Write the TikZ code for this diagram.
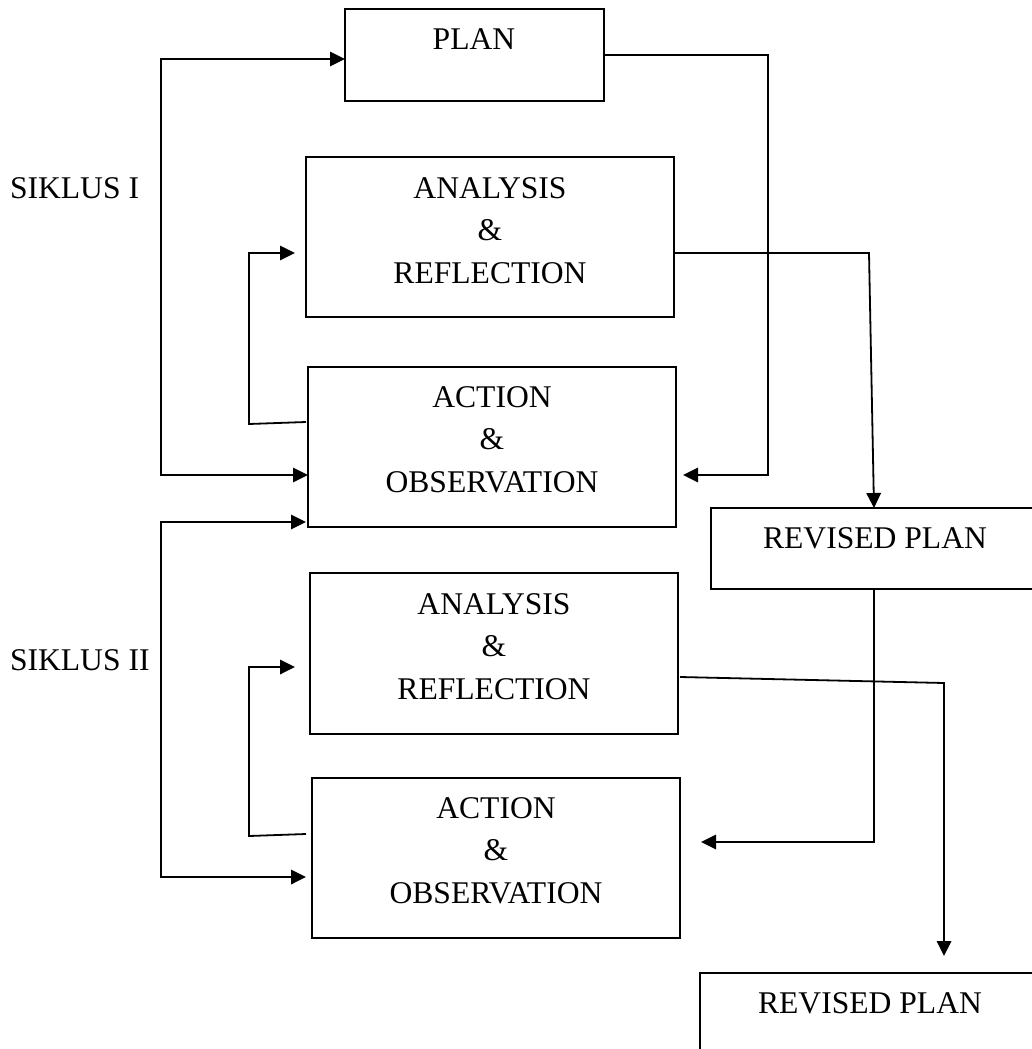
\documentclass[tikz,border=0pt]{standalone}
\usepackage{fontspec}
\setmainfont{Liberation Serif}
\usetikzlibrary{arrows.meta}
\begin{document}
\begin{tikzpicture}[x=1pt,y=-1pt,
  box/.style={draw, line width=1.8pt, rectangle, inner sep=0pt, outer sep=0pt},
  txt/.style={inner sep=0pt, outer sep=0pt, anchor=base, font=\fontsize{31.6}{42.5}\selectfont},
  lbl/.style={inner sep=0pt, outer sep=0pt, anchor=base west, font=\fontsize{31.6}{42.5}\selectfont},
  conn/.style={line width=1.8pt, line join=miter},
  arr/.style={conn, -{Triangle[length=15pt,width=14.5pt]}},
  arrr/.style={conn, {Triangle[length=15pt,width=14.5pt]}-{Triangle[length=15pt,width=14.5pt]}}
]
\useasboundingbox (0,0) rectangle (1032,1049);

% boxes
\node[box, minimum width=259pt, minimum height=92pt]  (plan) at (474.5,55) {};
\node[box, minimum width=368pt, minimum height=160pt] (ar1)  at (490,237) {};
\node[box, minimum width=368pt, minimum height=160pt] (ao1)  at (492,447) {};
\node[box, minimum width=326pt, minimum height=81pt]  (rp1)  at (874,548.5) {};
\node[box, minimum width=368pt, minimum height=161pt] (ar2)  at (494,653.5) {};
\node[box, minimum width=368pt, minimum height=160pt] (ao2)  at (496,858) {};
\node[box, minimum width=340pt, minimum height=120pt] (rp2)  at (870,1033) {};

% texts
\node[txt] (tplan) at (474,50) {PLAN};
\node[txt] (tar1) at (490,198) {\begin{tabular}[t]{@{}c@{}}ANALYSIS\\\&\\REFLECTION\end{tabular}};
\node[txt] (tao1) at (492,407) {\begin{tabular}[t]{@{}c@{}}ACTION\\\&\\OBSERVATION\end{tabular}};
\node[txt] (trp1) at (875,548) {REVISED PLAN};
\node[txt] (tar2) at (494,614) {\begin{tabular}[t]{@{}c@{}}ANALYSIS\\\&\\REFLECTION\end{tabular}};
\node[txt] (tao2) at (496,818) {\begin{tabular}[t]{@{}c@{}}ACTION\\\&\\OBSERVATION\end{tabular}};
\node[txt] (trp2) at (870,1013) {REVISED PLAN};
\node[lbl] (s1) at (10,198) {SIKLUS I};
\node[lbl] (s2) at (10,670) {SIKLUS II};

% cycle I bracket
\draw[arrr] ([yshift=-28pt]ao1.west) -- (161,475) -- (161,59) -- ([yshift=-4pt]plan.west);
% feedback cycle I
\draw[arr] ([xshift=-2pt,yshift=25pt]ao1.west) -- (249,424) -- (249,253) -- ([xshift=-11pt,yshift=-16pt]ar1.west);
% plan -> action 1
\draw[arr] (plan.east) -- (768,55) -- (768,475) -- ([xshift=7pt,yshift=-28pt]ao1.east);
% analysis 1 -> revised plan 1
\draw[arr] ([yshift=-16pt]ar1.east) -- (869,253) -- (rp1.north);
% revised plan 1 -> action 2
\draw[arr] (rp1.south) -- (874,842) -- ([xshift=21pt,yshift=16pt]ao2.east);
% cycle II bracket
\draw[arrr] ([xshift=-2pt,yshift=-75pt]ao1.west) -- (161,522) -- (161,877) -- ([xshift=-6pt,yshift=-19pt]ao2.west);
% feedback cycle II
\draw[arr] ([xshift=-6pt,yshift=24pt]ao2.west) -- (249,836) -- (249,667) -- ([xshift=-15pt,yshift=-13.5pt]ar2.west);
% analysis 2 -> revised plan 2
\draw[arr] ([xshift=2pt,yshift=-23.5pt]ar2.east) -- (944,683) -- ([xshift=74pt,yshift=17pt]rp2.north);
\end{tikzpicture}
\end{document}
